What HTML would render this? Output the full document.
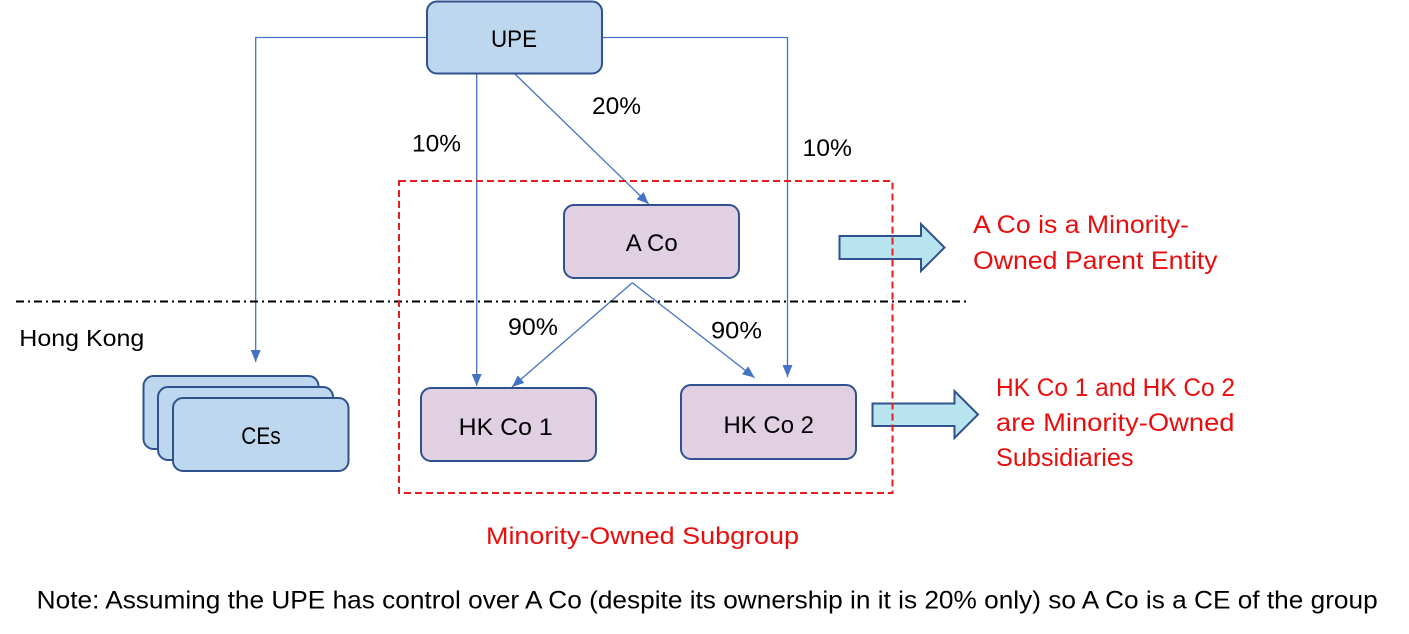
<!DOCTYPE html>
<html>
<head>
<meta charset="utf-8">
<style>
  html,body{margin:0;padding:0;background:#fff;}
  svg{display:block;}
  text{font-family:"Liberation Sans", Arial, sans-serif;}
</style>
</head>
<body>
<svg width="1409" height="634" viewBox="0 0 1409 634" xmlns="http://www.w3.org/2000/svg">
  <defs>
    <marker id="ah" viewBox="0 0 12 10" refX="12" refY="5" markerWidth="12" markerHeight="10" markerUnits="userSpaceOnUse" orient="auto">
      <path d="M0,0 L12,5 L0,10 z" fill="#4472C4"/>
    </marker>
  </defs>

  <!-- connectors -->
  <g fill="none" stroke="#4472C4" stroke-width="1.3">
    <polyline points="427,37.5 255.7,37.5 255.7,362" marker-end="url(#ah)"/>
    <polyline points="602,37.5 787.5,37.5 787.5,377" marker-end="url(#ah)"/>
    <line x1="476.7" y1="74" x2="476.7" y2="386" marker-end="url(#ah)"/>
    <line x1="515" y1="74" x2="648.7" y2="204" marker-end="url(#ah)"/>
    <line x1="632.3" y1="282.7" x2="512" y2="387" marker-end="url(#ah)"/>
    <line x1="632.3" y1="282.7" x2="754.6" y2="377.6" marker-end="url(#ah)"/>
  </g>

  <!-- dash-dot border line -->
  <line x1="16" y1="301.5" x2="968" y2="301.5" stroke="#000" stroke-width="2" stroke-dasharray="8 4 2 4"/>

  <!-- boxes -->
  <g stroke="#2F528F" stroke-width="2">
    <rect x="427" y="1.5" width="175" height="72" rx="10" fill="#BDD7EE"/>
    <rect x="564" y="205" width="175" height="73" rx="10" fill="#E1CFE2"/>
    <rect x="421" y="388" width="175" height="73" rx="10" fill="#E1CFE2"/>
    <rect x="681" y="385" width="175" height="74" rx="10" fill="#E1CFE2"/>
    <rect x="143.5" y="376" width="175" height="73" rx="10" fill="#BDD7EE"/>
    <rect x="158" y="387" width="175" height="73" rx="10" fill="#BDD7EE"/>
    <rect x="173" y="398" width="175.5" height="73" rx="10" fill="#BDD7EE"/>
  </g>

  <!-- block arrows -->
  <g fill="#B7E4EE" stroke="#2F528F" stroke-width="2" stroke-linejoin="miter">
    <polygon points="839.5,236 921,236 921,224 944.5,247.5 921,271 921,259 839.5,259"/>
    <polygon points="872.5,403.5 954.5,403.5 954.5,391 978,414.5 954.5,438 954.5,426 872.5,426"/>
  </g>

  <!-- red dashed subgroup -->
  <rect x="399" y="181" width="493.5" height="312" fill="none" stroke="#E41E1E" stroke-width="2" stroke-dasharray="7 4"/>

  <!-- black labels -->
  <g fill="#000" font-size="24">
    <text x="491" y="47" textLength="46" lengthAdjust="spacingAndGlyphs">UPE</text>
    <text x="592" y="114" textLength="49" lengthAdjust="spacingAndGlyphs">20%</text>
    <text x="412" y="151.5" textLength="49" lengthAdjust="spacingAndGlyphs">10%</text>
    <text x="802.5" y="156" textLength="49.5" lengthAdjust="spacingAndGlyphs">10%</text>
    <text x="625.7" y="251" textLength="52" lengthAdjust="spacingAndGlyphs">A Co</text>
    <text x="508" y="335" textLength="50" lengthAdjust="spacingAndGlyphs">90%</text>
    <text x="711" y="338.5" textLength="51" lengthAdjust="spacingAndGlyphs">90%</text>
    <text x="19.3" y="346" font-size="23" textLength="125" lengthAdjust="spacingAndGlyphs">Hong Kong</text>
    <text x="241.3" y="444" textLength="39.4" lengthAdjust="spacingAndGlyphs">CEs</text>
    <text x="458.7" y="435" textLength="94" lengthAdjust="spacingAndGlyphs">HK Co 1</text>
    <text x="723.5" y="433" textLength="90.5" lengthAdjust="spacingAndGlyphs">HK Co 2</text>
  </g>

  <!-- red labels -->
  <g fill="#E80E0E" font-size="25">
    <text x="973" y="233" textLength="216" lengthAdjust="spacingAndGlyphs">A Co is a Minority-</text>
    <text x="973" y="269" textLength="244.5" lengthAdjust="spacingAndGlyphs">Owned Parent Entity</text>
    <text x="996" y="396" textLength="239" lengthAdjust="spacingAndGlyphs">HK Co 1 and HK Co 2</text>
    <text x="996" y="431" textLength="238.5" lengthAdjust="spacingAndGlyphs">are Minority-Owned</text>
    <text x="996" y="466" textLength="137.5" lengthAdjust="spacingAndGlyphs">Subsidiaries</text>
    <text x="486" y="544" font-size="24" textLength="313" lengthAdjust="spacingAndGlyphs">Minority-Owned Subgroup</text>
  </g>

  <!-- note -->
  <text x="36.7" y="608.5" font-size="25" fill="#000" textLength="1341" lengthAdjust="spacingAndGlyphs">Note: Assuming the UPE has control over A Co (despite its ownership in it is 20% only) so A Co is a CE of the group</text>
</svg>
</body>
</html>
